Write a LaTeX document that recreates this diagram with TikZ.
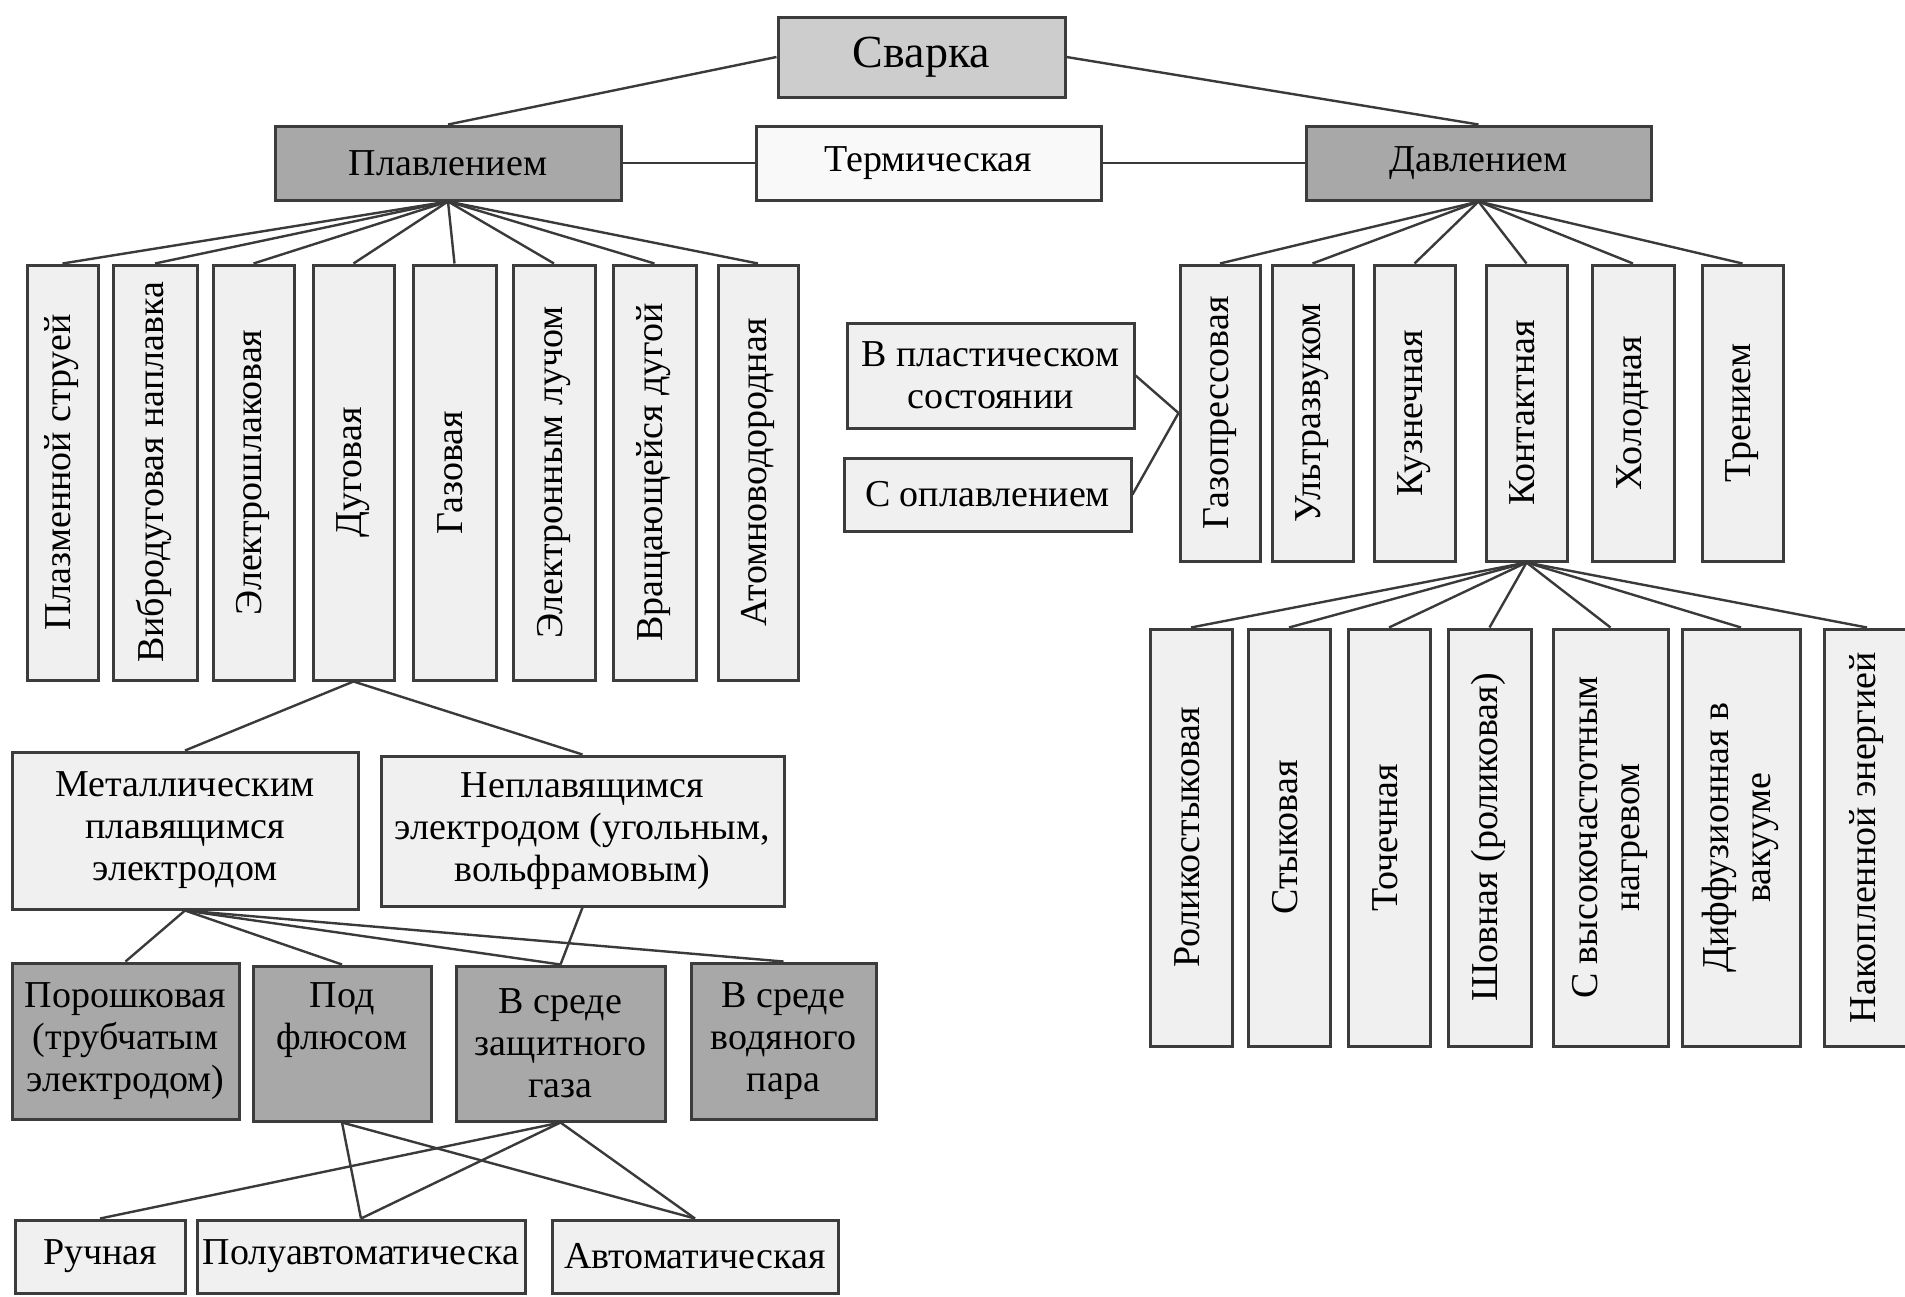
\documentclass[tikz,border=0pt]{standalone}
\usepackage{fontspec}
\setmainfont{Liberation Serif}
\usepackage{graphicx}
\definecolor{lightfill}{HTML}{F0F0F0}
\definecolor{midfill}{HTML}{CDCDCD}
\definecolor{darkfill}{HTML}{A8A8A8}
\definecolor{bordercol}{HTML}{3C3C3C}
\definecolor{linecol}{HTML}{3A3A3A}
\newcommand\vtext[1]{\rotatebox{90}{\begin{tabular}{@{}c@{}}#1\end{tabular}}}
% \bx{style}{x1}{y1}{x2}{y2}{name}{text}
\newcommand\bx[7]{\node[#1, minimum width={(#4-#2)*0.5pt}, minimum height={(#5-#3)*0.5pt}] (#6) at ({(#2+#4)/2},{(#3+#5)/2}) {#7};}
\tikzset{
  box/.style={draw=bordercol, line width=1.5pt, inner sep=0pt, align=center, text=black,
              font=\fontsize{19}{21}\selectfont},
  lbox/.style={box, fill=lightfill},
  dbox/.style={box, fill=darkfill},
  topbox/.style={box, fill=midfill, font=\fontsize{23}{25}\selectfont},
  conn/.style={draw=linecol, line width=1.2pt},
}
\begin{document}
\begin{tikzpicture}[x=0.5pt,y=-0.5pt]
\useasboundingbox (0,0) rectangle (1905,1296);
\clip (0,0) rectangle (1905,1296);
\fill[white] (0,0) rectangle (1905,1296);
% top
\bx{topbox}{778}{17}{1065}{97}{svarka}{Сварка}
\bx{dbox}{275}{126}{621}{200}{plav}{Плавлением}
\bx{lbox, fill=white!60!lightfill}{756}{126}{1101}{200}{term}{Термическая}
\bx{dbox}{1306}{126}{1651}{200}{davl}{Давлением}
% left columns
\bx{lbox}{27}{265}{98}{680}{L1}{\vtext{Плазменной струей}}
\bx{lbox}{113}{265}{197}{680}{L2}{\vtext{Вибродуговая наплавка}}
\bx{lbox}{213}{265}{294}{680}{L3}{\vtext{Электрошлаковая}}
\bx{lbox}{313}{265}{394}{680}{L4}{\vtext{Дуговая}}
\bx{lbox}{413}{265}{496}{680}{L5}{\vtext{Газовая}}
\bx{lbox}{513}{265}{595}{680}{L6}{\vtext{Электронным лучом}}
\bx{lbox}{613}{265}{696}{680}{L7}{\vtext{Вращающейся дугой}}
\bx{lbox}{718}{265}{798}{680}{L8}{\vtext{Атомноводородная}}
% electrodes
\bx{lbox}{12}{752}{358}{909}{metal}{Металлическим\\плавящимся\\электродом}
\bx{lbox}{381}{756}{784}{906}{neplav}{Неплавящимся\\электродом (угольным,\\вольфрамовым)}
% gray row
\bx{dbox}{12}{963}{239}{1119}{por}{Порошковая\\(трубчатым\\электродом)}
\bx{dbox}{253}{966}{431}{1121}{flux}{Под\\флюсом\\\strut}
\bx{dbox}{456}{966}{665}{1121}{gas}{В среде\\защитного\\газа}
\bx{dbox}{691}{963}{876}{1119}{vapor}{В среде\\водяного\\пара}
% bottom row
\bx{lbox}{15}{1220}{185}{1293}{ruch}{Ручная}
\bx{lbox}{197}{1220}{525}{1293}{poluavt}{Полуавтоматическа}
\bx{lbox}{552}{1220}{838}{1293}{avt}{Автоматическая}
% right columns
\bx{lbox}{1180}{265}{1260}{561}{R1}{\vtext{Газопрессовая}}
\bx{lbox}{1272}{265}{1353}{561}{R2}{\vtext{Ультразвуком}}
\bx{lbox}{1374}{265}{1455}{561}{R3}{\vtext{Кузнечная}}
\bx{lbox}{1486}{265}{1567}{561}{R4}{\vtext{Контактная}}
\bx{lbox}{1592}{265}{1674}{561}{R5}{\vtext{Холодная}}
\bx{lbox}{1702}{265}{1783}{561}{R6}{\vtext{Трением}}
\bx{lbox}{847}{323}{1134}{428}{plast}{В пластическом\\состоянии}
\bx{lbox}{844}{458}{1131}{531}{oplav}{С оплавлением}
% bottom right
\bx{lbox}{1150}{629}{1232}{1046}{B1}{\vtext{Роликостыковая}}
\bx{lbox}{1248}{629}{1330}{1046}{B2}{\vtext{Стыковая}}
\bx{lbox}{1348}{629}{1430}{1046}{B3}{\vtext{Точечная}}
\bx{lbox}{1448}{629}{1531}{1046}{B4}{\vtext{Шовная (роликовая)}}
\bx{lbox}{1553}{629}{1668}{1046}{B5}{\vtext{С высокочастотным\\нагревом}}
\bx{lbox}{1682}{629}{1800}{1046}{B6}{\vtext{Диффузионная в\\вакууме}}
\bx{lbox}{1824}{629}{1910}{1046}{B7}{\vtext{Накопленной энергией}}
% connectors
\begin{scope}[conn]
\draw (svarka.west) -- (plav.north);
\draw (svarka.east) -- (davl.north);
\draw (plav.east) -- (term.west);
\draw (term.east) -- (davl.west);
\foreach \n in {L1,L2,L3,L4,L5,L6,L7,L8} \draw (plav.south) -- (\n.north);
\draw (L4.south) -- (metal.north);
\draw (L4.south) -- (neplav.north);
\foreach \n in {por,flux,gas,vapor} \draw (metal.south) -- (\n.north);
\draw (neplav.south) -- (gas.north);
\draw (flux.south) -- (poluavt.north);
\draw (flux.south) -- (avt.north);
\draw (gas.south) -- (ruch.north);
\draw (gas.south) -- (poluavt.north);
\draw (gas.south) -- (avt.north);
\foreach \n in {R1,R2,R3,R4,R5,R6} \draw (davl.south) -- (\n.north);
\draw (plast.east) -- (R1.west);
\draw (oplav.east) -- (R1.west);
\foreach \n in {B1,B2,B3,B4,B5,B6,B7} \draw (R4.south) -- (\n.north);
\end{scope}
\end{tikzpicture}
\end{document}
